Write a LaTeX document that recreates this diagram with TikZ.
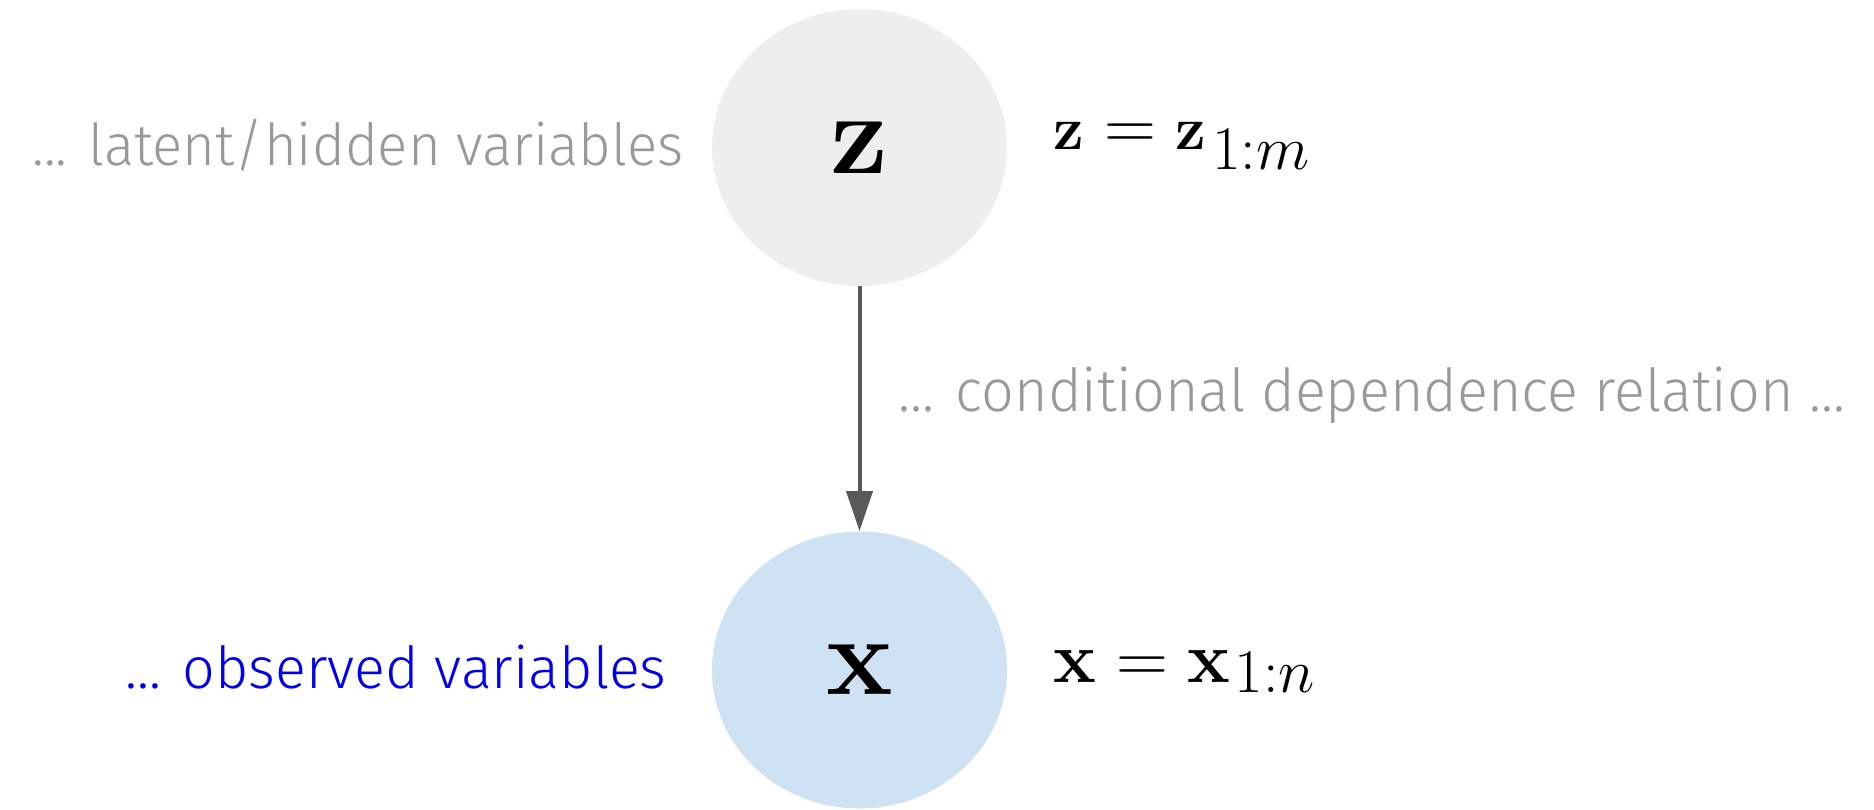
\RequirePackage{fix-cm}
\documentclass[tikz,border=0pt]{standalone}
\usepackage[no-math]{fontspec}
\usepackage{graphicx}
\newfontfamily\plexlight{Fira Sans Light}
\usetikzlibrary{shapes.geometric,arrows.meta}
\definecolor{latentfill}{HTML}{EEEEEE}
\definecolor{obsfill}{HTML}{CFE2F3}
\definecolor{notegray}{HTML}{999999}
\definecolor{noteblue}{HTML}{0000EE}
\definecolor{arrowgray}{HTML}{595959}
\newcommand\fittext[3]{\resizebox{#1}{#2}{\plexlight\smash{#3}\vphantom{l}}}
\begin{document}
\begin{tikzpicture}[x=0.5pt,y=-0.5pt,
  varnode/.style={ellipse, minimum width=147.5pt, minimum height=138.5pt, inner sep=0pt, draw=none},
  note/.style={anchor=base west, inner sep=0pt},
  mathlbl/.style={anchor=base west, inner sep=0pt, text=black},
  dep/.style={draw=arrowgray, line width=2pt, -{Triangle[length=20pt,width=13pt]}, arrowgray}]
\useasboundingbox (0,0) rectangle (1874,809);
\node[varnode, fill=latentfill] (z) at (859.5,147.5) {\fontsize{58}{58}\selectfont$\mathbf{z}$};
\node[varnode, fill=obsfill] (x) at (859.5,670) {\fontsize{56}{56}\selectfont$\mathbf{x}$};
\draw[dep] (z) -- (x);
\node[note, text=notegray] (latent) at (32,165) {\fittext{325.5pt}{21.5pt}{... latent/hidden variables}};
\node[note, text=notegray] (cond) at (898,411) {\fittext{473.5pt}{22pt}{... conditional dependence relation ...}};
\node[note, text=noteblue] (obs) at (125,688) {\fittext{270.5pt}{21.5pt}{... observed variables}};
\node[mathlbl] (zlab) at (1053,149) {\fontsize{36}{36}\selectfont$\mathord{\scalebox{0.85}{$\mathbf{z}$}}\mathrel{=}\mathord{\scalebox{0.85}{$\mathbf{z}$}}$\hspace{3pt}\raisebox{-10pt}{\fontsize{31}{31}\selectfont$1{:}m$}};
\node[mathlbl] (xlab) at (1053,682) {\fontsize{36}{36}\selectfont$\mathbf{x}=\mathbf{x}$\hspace{2pt}\raisebox{-5.4pt}{\fontsize{31}{31}\selectfont$1{:}n$}};
\end{tikzpicture}
\end{document}
